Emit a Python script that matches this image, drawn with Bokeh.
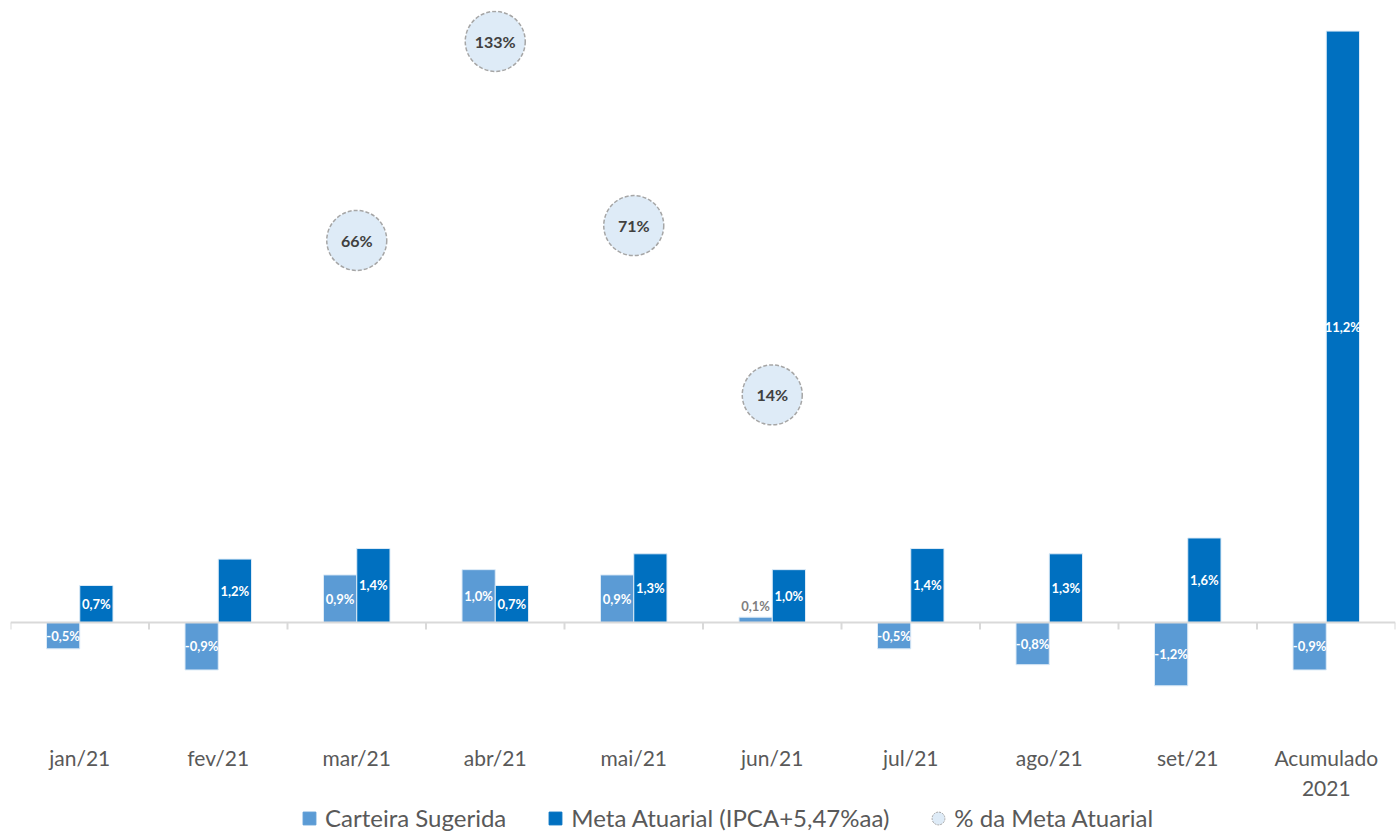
import math
from bokeh.plotting import figure
from bokeh.layouts import column
from bokeh.models import (ColumnDataSource, Range1d, LinearAxis, FixedTicker,
                          Legend, LegendItem, Span)
from bokeh.transform import dodge
from bokeh.core.properties import value
from bokeh.embed import file_html
from bokeh.resources import INLINE

# ---- data ----
categories = ["jan/21", "fev/21", "mar/21", "abr/21", "mai/21", "jun/21",
              "jul/21", "ago/21", "set/21", "Acumulado\n2021"]
carteira = [-0.5, -0.9, 0.9, 1.0, 0.9, 0.1, -0.5, -0.8, -1.2, -0.9]
meta = [0.7, 1.2, 1.4, 0.7, 1.3, 1.0, 1.4, 1.3, 1.6, 11.2]
pct_meta = [None, None, 66, 133, 71, 14, None, None, None, None]

series_names = ["Carteira Sugerida", "Meta Atuarial (IPCA+5,47%aa)", "% da Meta Atuarial"]

LIGHT = "#5B9BD5"
DARK = "#0070C0"
CIRCLE_FILL = "#DEEBF7"
CIRCLE_LINE = "#A6A6A6"
FONT = "Lato"


def fmt(v):
    return f"{v:.1f}%".replace(".", ",")


idx = list(range(len(categories)))
bars = ColumnDataSource(dict(x=idx, carteira=carteira, meta=meta))


def label_source(vals):
    inside = dict(x=[], y=[], t=[])
    outside = dict(x=[], y=[], t=[])
    for i, v in zip(idx, vals):
        if abs(v) < 0.3:
            outside["x"].append(i); outside["y"].append(v); outside["t"].append(fmt(v))
        else:
            inside["x"].append(i); inside["y"].append(v / 2); inside["t"].append(fmt(v))
    return ColumnDataSource(inside), ColumnDataSource(outside)


car_in, car_out = label_source(carteira)
met_in, met_out = label_source(meta)

pc = [(i, v) for i, v in zip(idx, pct_meta) if v is not None]
pct_src = ColumnDataSource(dict(x=[i for i, _ in pc], v=[v for _, v in pc],
                                t=[f"{v}%" for _, v in pc]))

p = figure(x_range=Range1d(-0.5, len(categories) - 0.5),
           y_range=Range1d(-2.16, 11.59),
           width=1400, height=803, output_backend="svg", toolbar_location=None,
           x_axis_location=None, y_axis_location=None,
           min_border_left=10, min_border_right=5, min_border_top=10, min_border_bottom=67)
p.extra_y_ranges = {"pct": Range1d(-101.0, 143.4)}
p.outline_line_color = None
p.xgrid.visible = False
p.ygrid.visible = False

# zero line and ticks at category boundaries
p.add_layout(Span(location=0, dimension="width", line_color="#D9D9D9", line_width=2))
bounds = [i - 0.5 for i in idx] + [idx[-1] + 0.5]
p.ray(x=bounds, y=[0] * len(bounds), length=7, length_units="screen",
      angle=-math.pi / 2, line_color="#D9D9D9", line_width=2)

W = 0.24
p.vbar(x=dodge("x", -W / 2), top="carteira", width=W, source=bars,
       fill_color=LIGHT, line_color="#DDEBF7", line_width=1)
p.vbar(x=dodge("x", W / 2), top="meta", width=W, source=bars,
       fill_color=DARK, line_color="#DDEBF7", line_width=1)

for src, off in ((car_in, -W / 2), (met_in, W / 2)):
    p.text(x=dodge("x", off), y="y", text="t", source=src,
           text_color="white", text_font=value(FONT), text_font_style="bold",
           text_font_size="13px", text_align="center", text_baseline="middle")
for src, off in ((car_out, -W / 2), (met_out, W / 2)):
    p.text(x=dodge("x", off), y="y", text="t", source=src,
           text_color="#7F7F7F", text_font=value(FONT), text_font_style="bold",
           text_font_size="13px", text_align="center", text_baseline="bottom",
           y_offset=-3)

p.scatter(x="x", y="v", source=pct_src, y_range_name="pct", marker="circle",
          size=60, fill_color=CIRCLE_FILL, line_color=CIRCLE_LINE, line_width=1.5,
          line_dash="4 2")
p.text(x="x", y="v", text="t", source=pct_src, y_range_name="pct",
       text_color="#404040", text_font=value(FONT), text_font_style="bold",
       text_font_size="16px", text_align="center", text_baseline="middle")

# category labels axis
label_axis = LinearAxis(ticker=FixedTicker(ticks=idx),
                        major_label_overrides={i: c for i, c in zip(idx, categories)},
                        axis_line_color=None, major_tick_line_color=None,
                        minor_tick_line_color=None,
                        major_label_text_font=FONT, major_label_text_font_size="21px",
                        major_label_text_color="#595959", major_label_standoff=2)
p.add_layout(label_axis, "below")

# ---- legend strip (separate small figure; its glyphs lie outside its view) ----
lf = figure(x_range=Range1d(-0.5, len(categories) - 0.5), y_range=Range1d(-1000, -999),
            width=1400, height=29, output_backend="svg", toolbar_location=None,
            x_axis_location=None, y_axis_location=None,
            min_border_left=0, min_border_right=0, min_border_top=0, min_border_bottom=0)
lf.outline_line_color = None
lf.xgrid.visible = False
lf.ygrid.visible = False
lg_car = lf.scatter(x="x", y="carteira", source=bars, marker="square",
                    fill_color=LIGHT, line_color=LIGHT)
lg_met = lf.scatter(x="x", y="meta", source=bars, marker="square",
                    fill_color=DARK, line_color=DARK)
lg_pct = lf.scatter(x="x", y="v", source=pct_src, marker="circle",
                    fill_color=CIRCLE_FILL, line_color=CIRCLE_LINE, line_dash="2 1")

legend = Legend(items=[LegendItem(label=series_names[0], renderers=[lg_car]),
                       LegendItem(label=series_names[1], renderers=[lg_met]),
                       LegendItem(label=series_names[2], renderers=[lg_pct])],
                orientation="horizontal", location=(283, -1.5),
                label_text_font=FONT, label_text_font_size="24px",
                label_text_color="#595959", border_line_color=None,
                background_fill_alpha=0, spacing=33, padding=0, margin=0,
                glyph_width=32, glyph_height=32, label_standoff=0)
lf.add_layout(legend, "center")

layout = column(p, lf, spacing=0)
open("out.html", "w").write(file_html(layout, INLINE))
